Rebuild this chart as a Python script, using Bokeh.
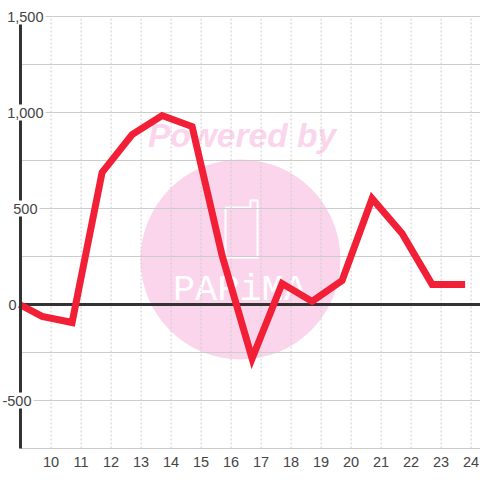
from bokeh.plotting import figure
from bokeh.models import FixedTicker, LinearAxis, Range1d
from bokeh.core.properties import value
from bokeh.embed import file_html
from bokeh.resources import INLINE

hours = [8.95, 9.7, 10.7, 11.7, 12.7, 13.7, 14.7, 15.7, 16.7, 17.7, 18.7, 19.7, 20.7, 21.7, 22.7, 23.8]
values = [0, -62, -94, 688, 885, 984, 927, 255, -281, 109, 16, 125, 552, 370, 104, 104]
x_ticks = list(range(10, 25))
y_grid = [-750, -500, -250, 0, 250, 500, 750, 1000, 1250, 1500]
y_labels = {1500: "1,500", 1000: "1,000", 500: "500", 0: "0", -500: "-500"}
y_label_right = {1500: 43, 1000: 43, 500: 37, 0: 16, -500: 31}
axis_segments = [(24, 104), (120, 200), (216, 392), (408, 448)]

TEXT = "#444444"
GRID = "#cccccc"
WM = "#fbd5ec"
DARK = "#333333"

def dx(px):
    return 8.98 + (px - 20) / 30.0

def dy(py):
    return (304 - py) * 500 / 96.0

LEFT, RIGHT = dx(20), dx(480)

p = figure(width=480, height=480, output_backend="svg", toolbar_location=None,
           x_range=Range1d(dx(0), dx(480)), y_range=Range1d(dy(480), dy(0)),
           x_axis_location=None, y_axis_location=None,
           min_border_left=0, min_border_right=0, min_border_top=0, min_border_bottom=0,
           margin=0, outline_line_color=None, background_fill_color="white",
           border_fill_color="white")
p.grid.visible = False

# watermark
p.circle([dx(240)], [dy(259)], radius=100 / 30.0, radius_dimension="x",
         fill_color=WM, line_color=None, level="image")
p.text([dx(241.5)], [dy(135)], text=["Powered by"], text_font=value("Liberation Sans"),
       text_font_size="33.5px", text_font_style="bold italic", text_color=WM,
       text_align="center", text_baseline="middle", level="image")
p.text([dx(239)], [dy(289)], text=["PARiMA"], text_font=value("Liberation Mono"),
       text_font_size="37px", text_color="white",
       text_align="center", text_baseline="middle", level="image")
p.line([dx(v) for v in (225, 250, 250, 257, 257, 225, 225)],
       [dy(v) for v in (207, 207, 200, 200, 257, 257, 207)],
       line_color="white", line_width=2, line_join="round", level="image")

# grid lines limited to the plot area
p.segment(x0=x_ticks, x1=x_ticks, y0=[-750] * len(x_ticks), y1=[1500] * len(x_ticks),
          line_color=GRID, line_width=1, line_dash="2 2", level="underlay")
p.segment(x0=[LEFT] * len(y_grid), x1=[RIGHT] * len(y_grid), y0=y_grid, y1=y_grid,
          line_color=GRID, line_width=1, level="underlay")

# gaps behind the y labels
for v in y_labels:
    if v != 0:
        p.quad(left=[LEFT], right=[dx(y_label_right[v] + 2)], bottom=[v - 40], top=[v + 40],
               fill_color="white", line_color=None, level="underlay")

# zero line and series
p.segment(x0=[LEFT], x1=[RIGHT], y0=[0], y1=[0], line_color=DARK, line_width=3)
p.line(hours, values, line_color="#f22037", line_width=7, line_join="miter", line_cap="butt")

# x axis
x_axis = LinearAxis(ticker=FixedTicker(ticks=x_ticks), fixed_location=-750, axis_line_color=None,
                    major_tick_line_color=None, minor_tick_line_color=None,
                    major_label_standoff=2, major_label_text_font="Liberation Sans",
                    major_label_text_font_size="14.5px", major_label_text_color=TEXT)
p.add_layout(x_axis, "below")

# y axis line, broken around the labels
for top, bottom in axis_segments:
    ax = LinearAxis(ticker=FixedTicker(ticks=[]), fixed_location=dx(20.2),
                    bounds=(dy(bottom), dy(top)), axis_line_color=DARK, axis_line_width=3,
                    major_tick_line_color=None, minor_tick_line_color=None)
    p.add_layout(ax, "left")

# y labels
for v, t in y_labels.items():
    ax = LinearAxis(ticker=FixedTicker(ticks=[v]), major_label_overrides={v: t},
                    fixed_location=dx(y_label_right[v]), axis_line_color=None,
                    major_tick_line_color=None, minor_tick_line_color=None,
                    major_tick_in=0, major_tick_out=0, major_label_standoff=0,
                    major_label_text_font="Liberation Sans", major_label_text_font_size="14.5px",
                    major_label_text_color=TEXT)
    p.add_layout(ax, "left")

open("out.html", "w").write(file_html(p, INLINE))
